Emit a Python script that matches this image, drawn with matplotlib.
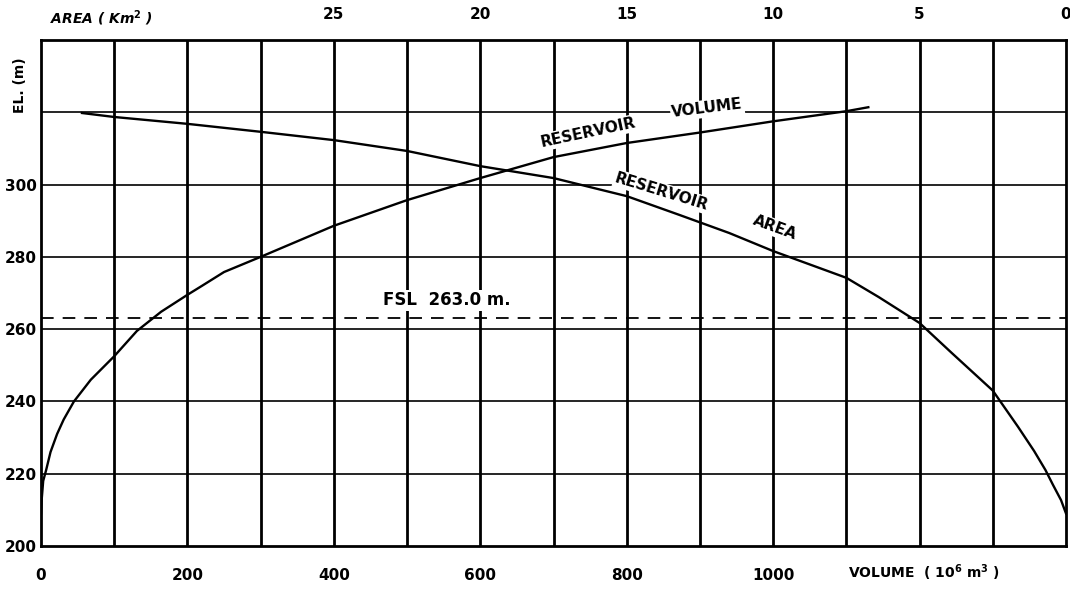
import numpy as np
import matplotlib
matplotlib.use('Agg')
import matplotlib.pyplot as plt

# 读图得到的数值
# 库容曲线: 库容 (10^6 m3) -> 高程 (m)
volume = [0, 1, 3, 7, 13, 22, 31, 45, 68, 100, 131, 164, 200, 220, 250, 300,
          400, 500, 600, 700, 800, 900, 1000, 1100, 1130]
vol_elev = [209, 213, 218, 221, 226, 231, 235, 240, 246, 252.5, 259.5, 264.8, 269.5, 272, 275.8, 280,
            288.6, 295.7, 301.8, 307.6, 311.5, 314.4, 317.5, 320.3, 321.4]

# 面积曲线: 面积 (Km2) -> 高程 (m)
area = [33.6, 32.5, 30.0, 27.5, 25.0, 22.5, 20.0, 17.5, 15.0, 13.2, 11.5, 10.0, 7.5,
        6.4, 5.0, 3.9, 3.24, 2.5, 1.64, 1.09, 0.7, 0.45, 0.17, 0.0]
area_elev = [319.8, 318.7, 316.8, 314.6, 312.3, 309.3, 305.1, 301.8, 296.8, 291.6, 286.6, 281.6, 274.2,
             268.9, 261.7, 253.4, 248.5, 243.0, 233.0, 226.3, 221.0, 217.0, 212.7, 209.0]

fsl = 263.0

vol_ticks = list(range(0, 1500, 100))
vol_labels = ['0', '', '200', '', '400', '', '600', '', '800', '', '1000', '', '', '', '']
elev_ticks = list(range(200, 360, 20))
elev_labels = ['200', '220', '240', '260', '280', '300', '', '']
area_ticks = [0, 5, 10, 15, 20, 25, 30, 35]
area_labels = ['0', '5', '10', '15', '20', '25', '', '']

plt.rcParams['font.family'] = 'DejaVu Sans'
plt.rcParams['font.weight'] = 'bold'

fig = plt.figure(figsize=(10.7, 5.89), dpi=100)
ax = fig.add_axes([41 / 1070, 43 / 589, 1025 / 1070, 506 / 589])

ax.set_xlim(0, 1400)
ax.set_ylim(200, 340)
ax.set_xticks(vol_ticks)
ax.set_xticklabels(vol_labels, fontsize=11)
ax.set_yticks(elev_ticks)
ax.set_yticklabels(elev_labels, fontsize=11)
ax.tick_params(axis='x', length=0, pad=16)
ax.tick_params(axis='y', length=0, pad=3)

# 网格线
for v in vol_ticks[1:-1]:
    ax.axvline(v, color='black', lw=2.0, zorder=1)
for e in elev_ticks[1:-1]:
    ax.axhline(e, color='black', lw=1.2, zorder=1)
for s in ax.spines.values():
    s.set_linewidth(2.0)

ax.plot(volume, vol_elev, color='black', lw=1.7, zorder=3)
ax.axhline(fsl, color='black', lw=1.3, ls=(0, (7, 5)), zorder=2)

# 上方面积坐标轴
ax2 = ax.twiny()
ax2.set_xlim(35, 0)
ax2.set_xticks(area_ticks)
ax2.set_xticklabels(area_labels, fontsize=11)
ax2.tick_params(axis='x', length=0, pad=13)
ax2.plot(area, area_elev, color='black', lw=1.7, zorder=3)
for s in ax2.spines.values():
    s.set_visible(False)

box = dict(fc='white', ec='none', pad=1)
ax.text(747, 314.3, 'RESERVOIR', rotation=12, fontsize=11, ha='center', va='center', bbox=box, zorder=4)
ax.text(910, 321.0, 'VOLUME', rotation=7, fontsize=11, ha='center', va='center', bbox=box, zorder=4)
ax.text(848, 298.0, 'RESERVOIR', rotation=-17, fontsize=11, ha='center', va='center', bbox=box, zorder=4)
ax.text(1003, 288.0, 'AREA', rotation=-20, fontsize=11, ha='center', va='center', bbox=box, zorder=4)
ax.text(467, 268.0, 'FSL  263.0 m.', fontsize=12, ha='left', va='center', bbox=box, zorder=4)

fig.text(20 / 1070, 1 - 85 / 589, 'EL. (m)', rotation=90, fontsize=10, ha='center', va='center')
fig.text(50 / 1070, 1 - 18 / 589, 'AREA ( Km$^{2}$ )', fontsize=10, style='italic', ha='left', va='center')
fig.text(848 / 1070, 1 - 573 / 589, 'VOLUME  ( 10$^{6}$ m$^{3}$ )', fontsize=10, ha='left', va='center')

fig.savefig('out.png', dpi=100, facecolor='white')
